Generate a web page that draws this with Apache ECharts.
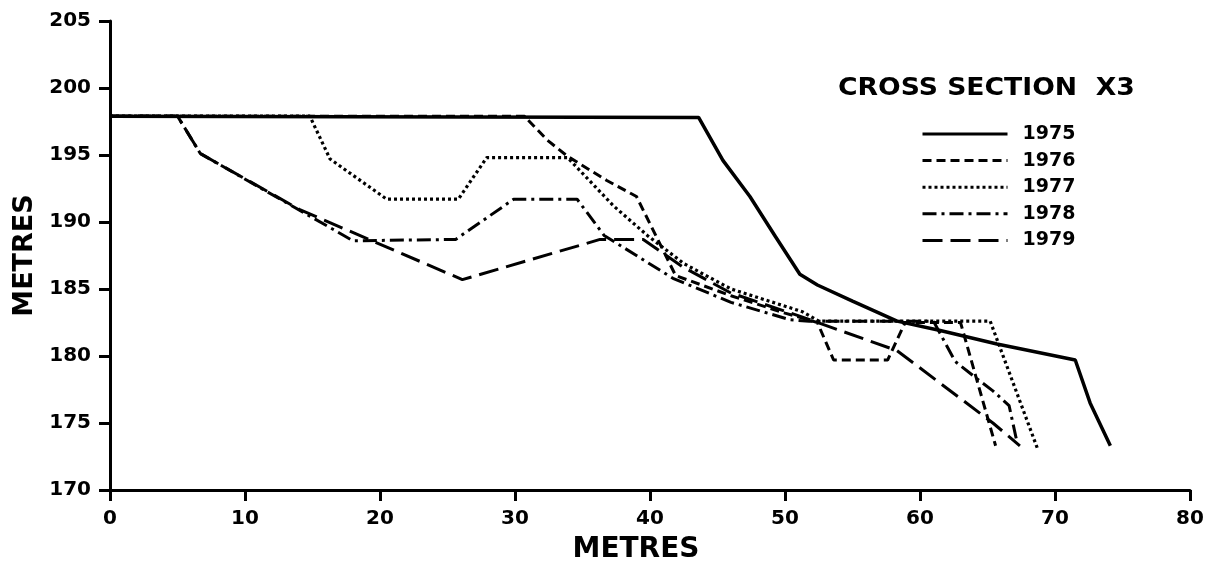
<!DOCTYPE html>
<html>
<head>
<meta charset="utf-8">
<script src="https://cdn.jsdelivr.net/npm/echarts@6/dist/echarts.min.js"></script>
<style>
html, body { margin: 0; padding: 0; background: #fff; }
#chart { width: 1210px; height: 574px; }
</style>
</head>
<body>
<div id="chart"></div>
<script>
// survey years of cross section X3
const years = ['1975', '1976', '1977', '1978', '1979']

// distance (m) / elevation (m)
const x1975 = [0, 43.6, 45.4, 47.4, 49.3, 51.1, 52.4, 55, 58.3, 61.5, 65.7, 71.5, 72.6, 74.1]
const y1975 = [197.9, 197.8, 194.6, 191.9, 188.9, 186.1, 185.3, 184.1, 182.6, 181.9, 180.9, 179.7, 176.5, 173.3]

const x1976 = [0, 30.7, 32.4, 33.9, 36.8, 39.0, 41.9, 46, 50, 52.4, 53.6, 57.6, 58.9, 63.0, 65.6]
const y1976 = [197.9, 197.9, 196.1, 194.9, 193.1, 191.9, 186.0, 184.5, 183.2, 182.5, 179.7, 179.7, 182.5, 182.5, 173.3]

const x1977 = [0, 14.8, 16.3, 20.5, 25.8, 27.9, 33.9, 37.3, 39.8, 42.5, 46, 51.3, 52.5, 65.2, 68.7]
const y1977 = [197.9, 197.9, 194.7, 191.7, 191.7, 194.8, 194.8, 191.2, 189.0, 186.9, 185.0, 183.3, 182.6, 182.6, 173.1]

const x1978 = [0, 5.0, 6.7, 18.0, 25.6, 29.9, 34.6, 36.6, 41.7, 46, 50.4, 51.8, 61.0, 62.6, 64.1, 65.4, 66.6, 67.2]
const y1978 = [197.9, 197.9, 195.1, 188.6, 188.7, 191.7, 191.7, 189.0, 185.8, 184.0, 182.7, 182.6, 182.6, 179.6, 178.4, 177.4, 176.3, 173.5]

const x1979 = [0, 5.0, 6.7, 14.1, 26.1, 36.3, 39.5, 42.5, 46, 51.3, 58.3, 65.4, 67.4]
const y1979 = [197.9, 197.9, 195.1, 190.9, 185.7, 188.7, 188.7, 186.6, 184.7, 182.9, 180.4, 175.0, 173.3]

const xs = [x1975, x1976, x1977, x1978, x1979]
const ys = [y1975, y1976, y1977, y1978, y1979]

// line patterns as in the key
const dashes = ['solid', [9, 5], [3, 3], [14, 5, 3, 5], [20, 8]]
const widths = [3.5, 3, 3.2, 3, 3]

const font = 'DejaVu Sans'
const chart = echarts.init(document.getElementById('chart'))

const series = years.map((y, i) => ({
  name: y,
  type: 'line',
  symbol: 'none',
  smooth: false,
  data: xs[i].map((x, j) => [x, ys[i][j]]),
  itemStyle: { color: '#000' },
  lineStyle: { color: '#000', width: widths[i], type: dashes[i] }
}))

const axisCommon = {
  type: 'value',
  splitLine: { show: false },
  axisLine: { lineStyle: { color: '#000', width: 3 } },
  axisTick: { length: 11, lineStyle: { color: '#000', width: 3 } },
  axisLabel: { margin: 19, color: '#000', fontFamily: font, fontWeight: 'bold', fontSize: 20 },
  nameLocation: 'middle'
}

chart.setOption({
  animation: false,
  backgroundColor: '#fff',
  graphic: [{
    type: 'text',
    left: 838,
    top: 77,
    scaleX: 1.11,
    style: {
      text: 'CROSS SECTION  X3',
      fill: '#000',
      font: 'bold 24px "DejaVu Sans"'
    }
  }],
  legend: {
    data: years,
    orient: 'vertical',
    left: 916,
    top: 119,
    itemWidth: 85,
    itemHeight: 14,
    itemGap: 6.6,
    itemStyle: { color: 'rgba(0,0,0,0)', borderWidth: 0 },
    lineStyle: { width: 3 },
    textStyle: { color: '#000', fontFamily: font, fontWeight: 'bold', fontSize: 19, lineHeight: 20, padding: [0, 0, 0, 10] }
  },
  grid: { left: 110, right: 20, top: 21, bottom: 84 },
  xAxis: Object.assign({}, axisCommon, {
    min: 0, max: 80, interval: 10,
    name: 'METRES',
    nameGap: 46,
    nameTextStyle: { color: '#000', fontFamily: font, fontWeight: 'bold', fontSize: 28, padding: [0, 28, 0, 0] }
  }),
  yAxis: Object.assign({}, axisCommon, {
    min: 170, max: 205, interval: 5,
    name: 'METRES',
    nameGap: 72,
    nameTextStyle: { color: '#000', fontFamily: font, fontWeight: 'bold', fontSize: 27 }
  }),
  series: series
})
</script>
</body>
</html>
